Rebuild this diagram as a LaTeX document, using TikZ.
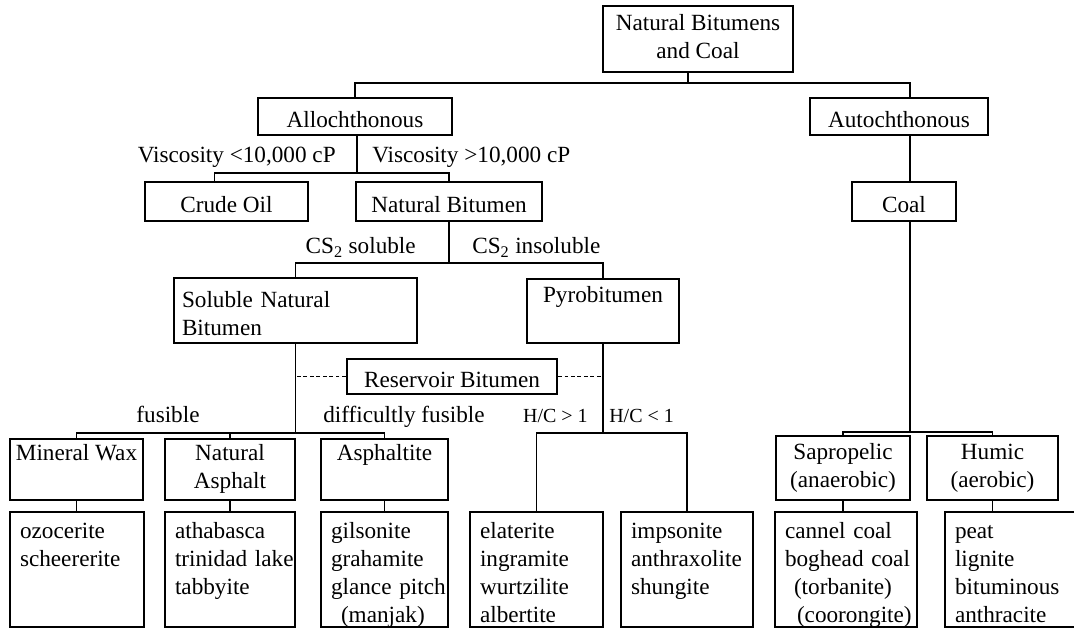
\documentclass[tikz,border=0pt]{standalone}
\usepackage{fontspec}
\setmainfont{Liberation Serif}

% one unit = one pixel of the drawing
\newdimen\unitpx
\unitpx=0.025cm

\begin{document}
\begin{tikzpicture}[
    x=0.025cm, y=-0.025cm,
    every node/.style={font=\fontsize{16.5}{19.9}\selectfont},
    bx/.style={draw, line width=1.5pt, inner sep=0pt, align=center,
               execute at begin node={\rule{0pt}{18.9pt}},
               execute at end node={\rule[-3.8pt]{0pt}{3.8pt}}},
    sz/.style 2 args={minimum width=#1\unitpx, minimum height=#2\unitpx},
    lst/.style={bx, align=left, inner xsep=10\unitpx, text width=#1\unitpx,
                minimum height=115\unitpx,
                execute at begin node={\rule{0pt}{16pt}}},
    ln/.style={line width=1.3pt},
    dsh/.style={line width=0.8pt, dash pattern=on 2.6pt off 2pt},
    lbl/.style={inner sep=0pt},
    hc/.style={inner sep=0pt, font=\fontsize{14.2}{17}\selectfont},
  ]
  \useasboundingbox (0,0) rectangle (1074,630);

  % classes
  \node[bx, sz={190}{66}] (root) at (698,39) {Natural Bitumens\\and Coal};
  \node[bx, sz={194}{37}] (allo) at (355,116.5) {Allochthonous};
  \node[bx, sz={178}{37}] (auto) at (899,116.5) {Autochthonous};
  \node[bx, sz={163}{39}] (crude) at (226.5,201.5) {Crude Oil};
  \node[bx, sz={186}{39}] (natbit) at (449,201.5) {Natural Bitumen};
  \node[bx, sz={104}{39}] (coal) at (904,201.5) {Coal};
  \node[bx, sz={243}{65}, align=left, text width=227\unitpx, inner xsep=8\unitpx]
    (snb) at (295.5,310.5) {Soluble~Natural\\Bitumen};
  \node[bx, sz={152}{64}] (pyro) at (603,311) {Pyrobitumen\\\mbox{}};
  \node[bx, sz={210}{35}] (rsv) at (452,376.5) {Reservoir Bitumen};
  \node[bx, sz={133}{61}] (wax) at (76.5,469.5) {Mineral Wax\\\mbox{}};
  \node[bx, sz={130}{61}] (asph) at (230,469.5) {Natural\\Asphalt};
  \node[bx, sz={127}{61}] (aspht) at (384.5,469.5) {Asphaltite\\\mbox{}};
  \node[bx, sz={134}{64}] (sapro) at (843,468) {Sapropelic\\(anaerobic)};
  \node[bx, sz={131}{64}] (humic) at (992.5,468) {Humic\\(aerobic)};

  % examples
  \node[lst=114] (ozo) at (77,569.5) {ozocerite\\scheererite\\\mbox{}\\\mbox{}};
  \node[lst=110] (atha) at (230,569.5) {athabasca\\trinidad~lake\\tabbyite\\\mbox{}};
  \node[lst=107] (gils) at (384.5,569.5)
    {gilsonite\\grahamite\\glance~pitch\\\hspace*{10\unitpx}(manjak)};
  \node[lst=113] (elat) at (536.5,569.5) {elaterite\\ingramite\\wurtzilite\\albertite};
  \node[lst=112] (imps) at (687,569.5) {impsonite\\anthraxolite\\shungite\\\mbox{}};
  \node[lst=122] (cann) at (846,569.5)
    {cannel~coal\\boghead~coal\\\hspace*{9\unitpx}(torbanite)\\\hspace*{12\unitpx}(coorongite)};
  \node[lst=115] (peat) at (1012.5,569.5) {peat\\lignite\\bituminous\\anthracite};

  % branch labels
  \node[lbl, anchor=base east] (vlo) at (336,163) {Viscosity <10,000 cP};
  \node[lbl, anchor=base west] (vhi) at (372,163) {Viscosity >10,000 cP};
  \node[lbl, anchor=base east] (csl) at (416,254) {CS\textsubscript{2} soluble};
  \node[lbl, anchor=base west] (cin) at (472,254) {CS\textsubscript{2} insoluble};
  \node[lbl, anchor=base] (fus) at (168,422) {fusible};
  \node[lbl, anchor=base west] (dfus) at (323,422) {difficultly fusible};
  \node[hc, anchor=base east] (hcg) at (588,422) {H/C > 1};
  \node[hc, anchor=base west] (hcl) at (609,422) {H/C < 1};

  % tree lines
  \coordinate (b0) at (688,83);
  \draw[ln] (b0 |- root.south) -- (b0);
  \draw[ln] (allo.north) |- (b0) -| ([xshift=11\unitpx]auto.north);

  \coordinate (b1) at (357,173);
  \draw[ln] (b1 |- allo.south) -- (b1);
  \draw[ln] ([xshift=-12\unitpx]crude.north) |- (b1) -| (natbit.north);

  \draw[ln] ([xshift=11\unitpx]auto.south) -- ([xshift=6\unitpx]coal.north);

  \draw[ln] (natbit.south) -- ++(0,41) coordinate (b2);
  \draw[ln] (snb.north) |- (b2) -| (pyro.north);

  \draw[ln] (snb.south) -- ++(0,89) coordinate (b3);
  \draw[ln] (wax.north) |- (b3) -| (aspht.north);
  \draw[ln] (asph.north) -- (asph.north |- b3);

  \draw[ln] (pyro.south) -- ++(0,89) coordinate (b4);
  \draw[ln] (elat.north) |- (b4) -| (imps.north);

  \draw[ln] ([xshift=6\unitpx]coal.south) -- ++(0,210) coordinate (b5);
  \draw[ln] (sapro.north) |- (b5) -| (humic.north);

  \foreach \a/\b in {wax/ozo, asph/atha, aspht/gils, sapro/cann}
    \draw[ln] (\a.south) -- (\a.south |- \b.north);
  \draw[ln] (humic.south) -- (humic.south |- peat.north);

  \draw[dsh] (rsv.west) -- (rsv.west -| snb.south);
  \draw[dsh] (rsv.east) -- (rsv.east -| pyro.south);
\end{tikzpicture}
\end{document}
